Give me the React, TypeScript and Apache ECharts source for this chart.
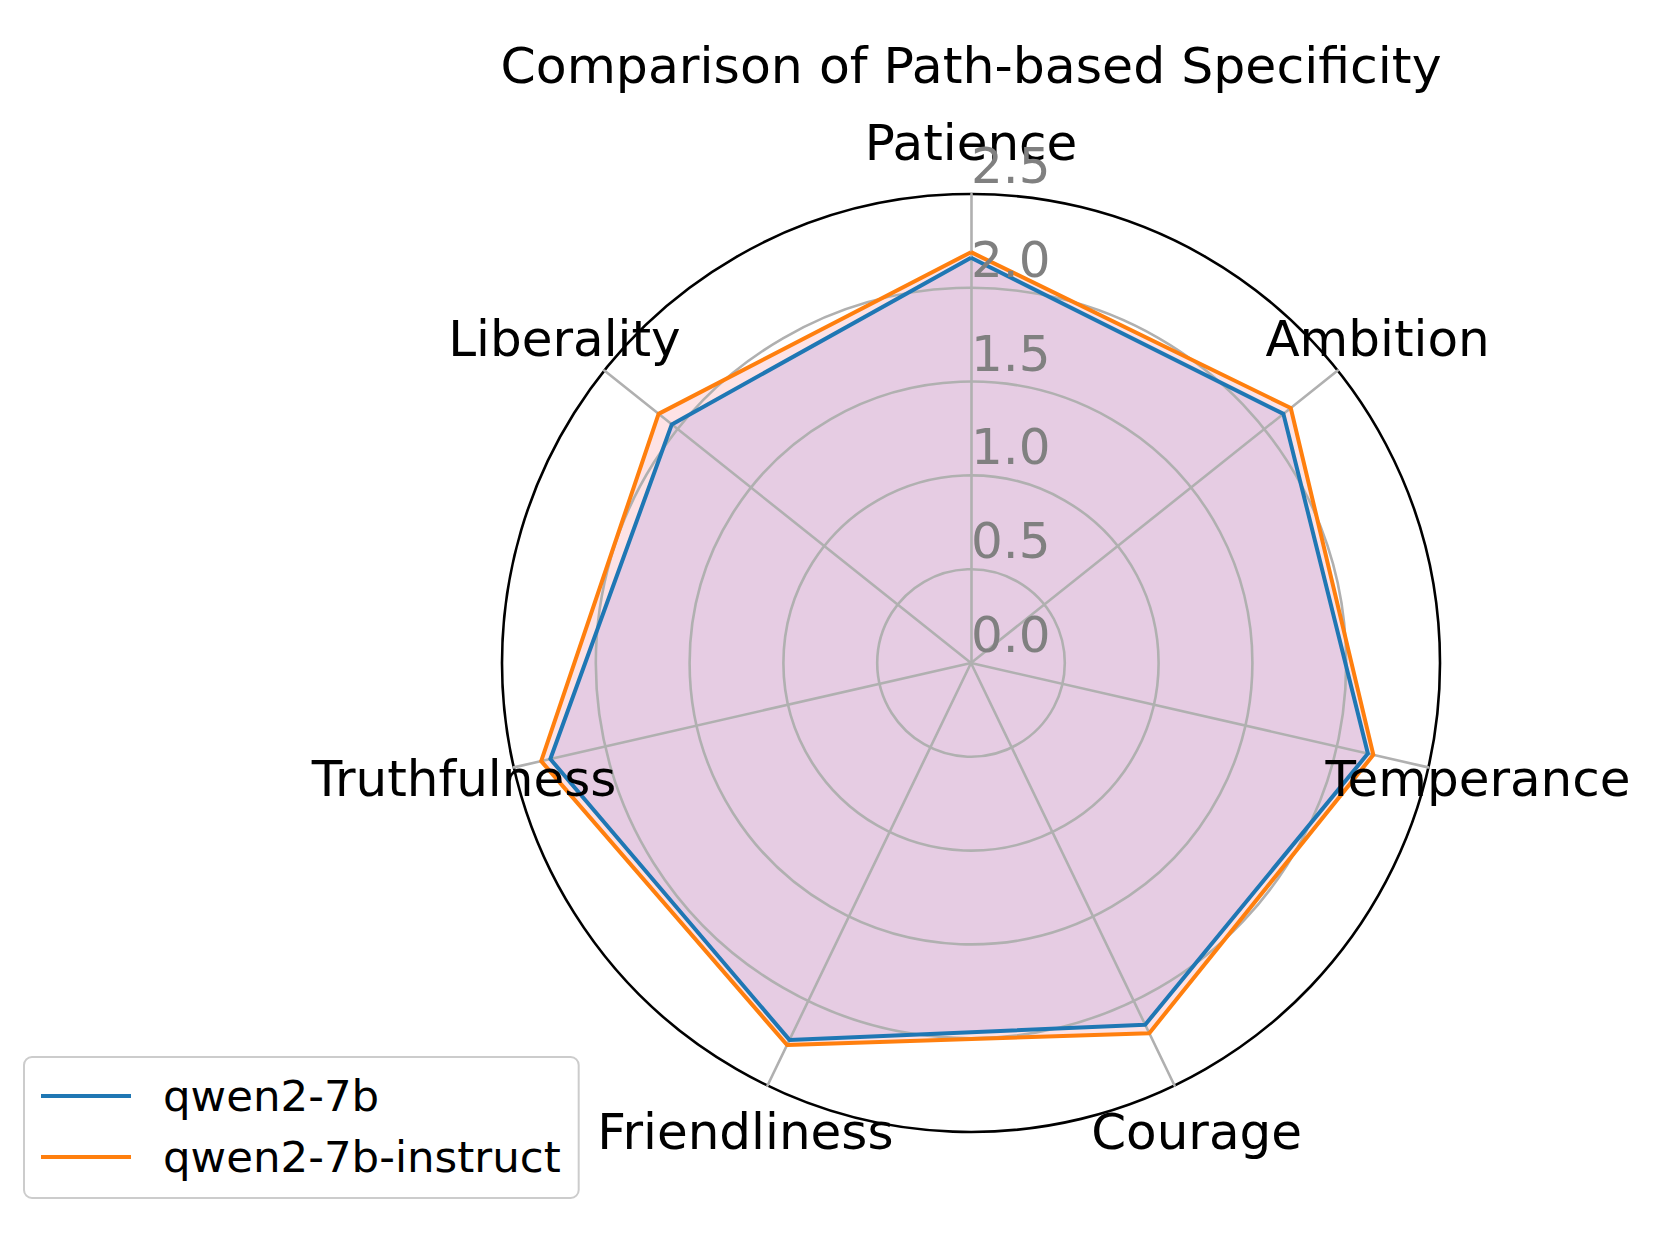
import React, { useEffect, useRef } from 'react';
import * as echarts from 'echarts';

const chartTitle = 'Comparison of Path-based Specificity';
const categories = ['Patience', 'Ambition', 'Temperance', 'Courage', 'Friendliness', 'Truthfulness', 'Liberality'];
const seriesNames = ['qwen2-7b', 'qwen2-7b-instruct'];
const qwen2_7b = [2.16, 2.13, 2.17, 2.14, 2.23, 2.3, 2.04];
const qwen2_7b_instruct = [2.19, 2.18, 2.2, 2.19, 2.26, 2.35, 2.13];
const radialTicks = [0, 0.5, 1.0, 1.5, 2.0, 2.5];
const radialTickLabels = ['0.0', '0.5', '1.0', '1.5', '2.0', '2.5'];
const rMin = 0;
const rMax = 2.5;

const lineColors = ['#1f77b4', '#ff7f0e'];
const fillColors = ['#E6CCE3', '#FDE2E5'];

const W = 1660;
const H = 1245;
const CX = 971;
const CY = 663;
const R = 469;
const LABEL_R = 520;
const FONT = '"DejaVu Sans", sans-serif';

// ECharts radar lays indicators out counter-clockwise; the reference runs clockwise.
function toRadarOrder(arr: any[]) {
  return [arr[0], ...arr.slice(1).reverse()];
}

export default function App() {
  const ref = useRef<HTMLDivElement>(null);

  useEffect(() => {
    if (!ref.current) return;
    const chart = echarts.init(ref.current, null, { renderer: 'svg' });

    const n = categories.length;
    const catLabels = categories.map((name, i) => {
      const th = ((90 - (i * 360) / n) * Math.PI) / 180;
      return {
        type: 'text',
        z: 10,
        x: CX + LABEL_R * Math.cos(th),
        y: CY - LABEL_R * Math.sin(th),
        style: {
          text: name,
          fontSize: 50,
          fontFamily: FONT,
          fill: '#000',
          align: 'center',
          verticalAlign: 'middle',
        },
      };
    });

    const tickLabels = radialTicks.map((v, i) => ({
      type: 'text',
      z: 10,
      x: CX,
      y: CY - ((v - rMin) / (rMax - rMin)) * R - 28,
      style: {
        text: radialTickLabels[i],
        fontSize: 50,
        fontFamily: FONT,
        fill: '#808080',
        align: 'left',
        verticalAlign: 'middle',
      },
    }));

    const option: any = {
      animation: false,
      backgroundColor: '#ffffff',
      graphic: [
        {
          type: 'text',
          z: 10,
          x: CX,
          y: 65,
          style: {
            text: chartTitle,
            fontSize: 50.5,
            fontFamily: FONT,
            fill: '#000',
            align: 'center',
            verticalAlign: 'middle',
          },
        },
        ...catLabels,
        ...tickLabels,
      ],
      legend: {
        data: seriesNames,
        orient: 'vertical',
        left: 24,
        top: 1057,
        padding: [17, 18, 19, 17],
        itemWidth: 90,
        itemHeight: 4,
        itemGap: 17,
        icon: 'rect',
        selectedMode: false,
        borderColor: '#cccccc',
        borderWidth: 2,
        borderRadius: 8,
        backgroundColor: '#ffffff',
        textStyle: {
          fontSize: 43.5,
          fontFamily: FONT,
          color: '#000',
          padding: [0, 0, 0, 27],
        },
      },
      radar: {
        center: [CX, CY],
        radius: R,
        startAngle: 90,
        shape: 'circle',
        splitNumber: 5,
        z: 2,
        indicator: toRadarOrder(categories).map((name) => ({ name, min: rMin, max: rMax })),
        axisName: { show: false },
        axisLine: { lineStyle: { color: '#b0b0b0', width: 2.6 } },
        axisTick: { show: false },
        axisLabel: { show: false },
        splitLine: {
          lineStyle: {
            color: ['#b0b0b0', '#b0b0b0', '#b0b0b0', '#b0b0b0', '#b0b0b0', '#000000'],
            width: 2.6,
          },
        },
        splitArea: { show: false },
      },
      series: [
        {
          type: 'radar',
          z: 1,
          silent: true,
          symbol: 'none',
          lineStyle: { width: 0, opacity: 0 },
          areaStyle: { color: fillColors[1], opacity: 1 },
          data: [{ name: 'fill-' + seriesNames[1], value: toRadarOrder(qwen2_7b_instruct) }],
        },
        {
          type: 'radar',
          z: 1,
          silent: true,
          symbol: 'none',
          lineStyle: { width: 0, opacity: 0 },
          areaStyle: { color: fillColors[0], opacity: 1 },
          data: [{ name: 'fill-' + seriesNames[0], value: toRadarOrder(qwen2_7b) }],
        },
        {
          type: 'radar',
          z: 3,
          silent: true,
          symbol: 'none',
          lineStyle: { color: lineColors[0], width: 4 },
          itemStyle: { color: lineColors[0] },
          data: [{ name: seriesNames[0], value: toRadarOrder(qwen2_7b) }],
        },
        {
          type: 'radar',
          z: 3,
          silent: true,
          symbol: 'none',
          lineStyle: { color: lineColors[1], width: 4 },
          itemStyle: { color: lineColors[1] },
          data: [{ name: seriesNames[1], value: toRadarOrder(qwen2_7b_instruct) }],
        },
      ],
    };

    chart.setOption(option);
    return () => chart.dispose();
  }, []);

  return (
    <div
      ref={ref}
      style={{ position: 'absolute', left: 0, top: 0, width: W, height: H, background: '#fff' }}
    />
  );
}
